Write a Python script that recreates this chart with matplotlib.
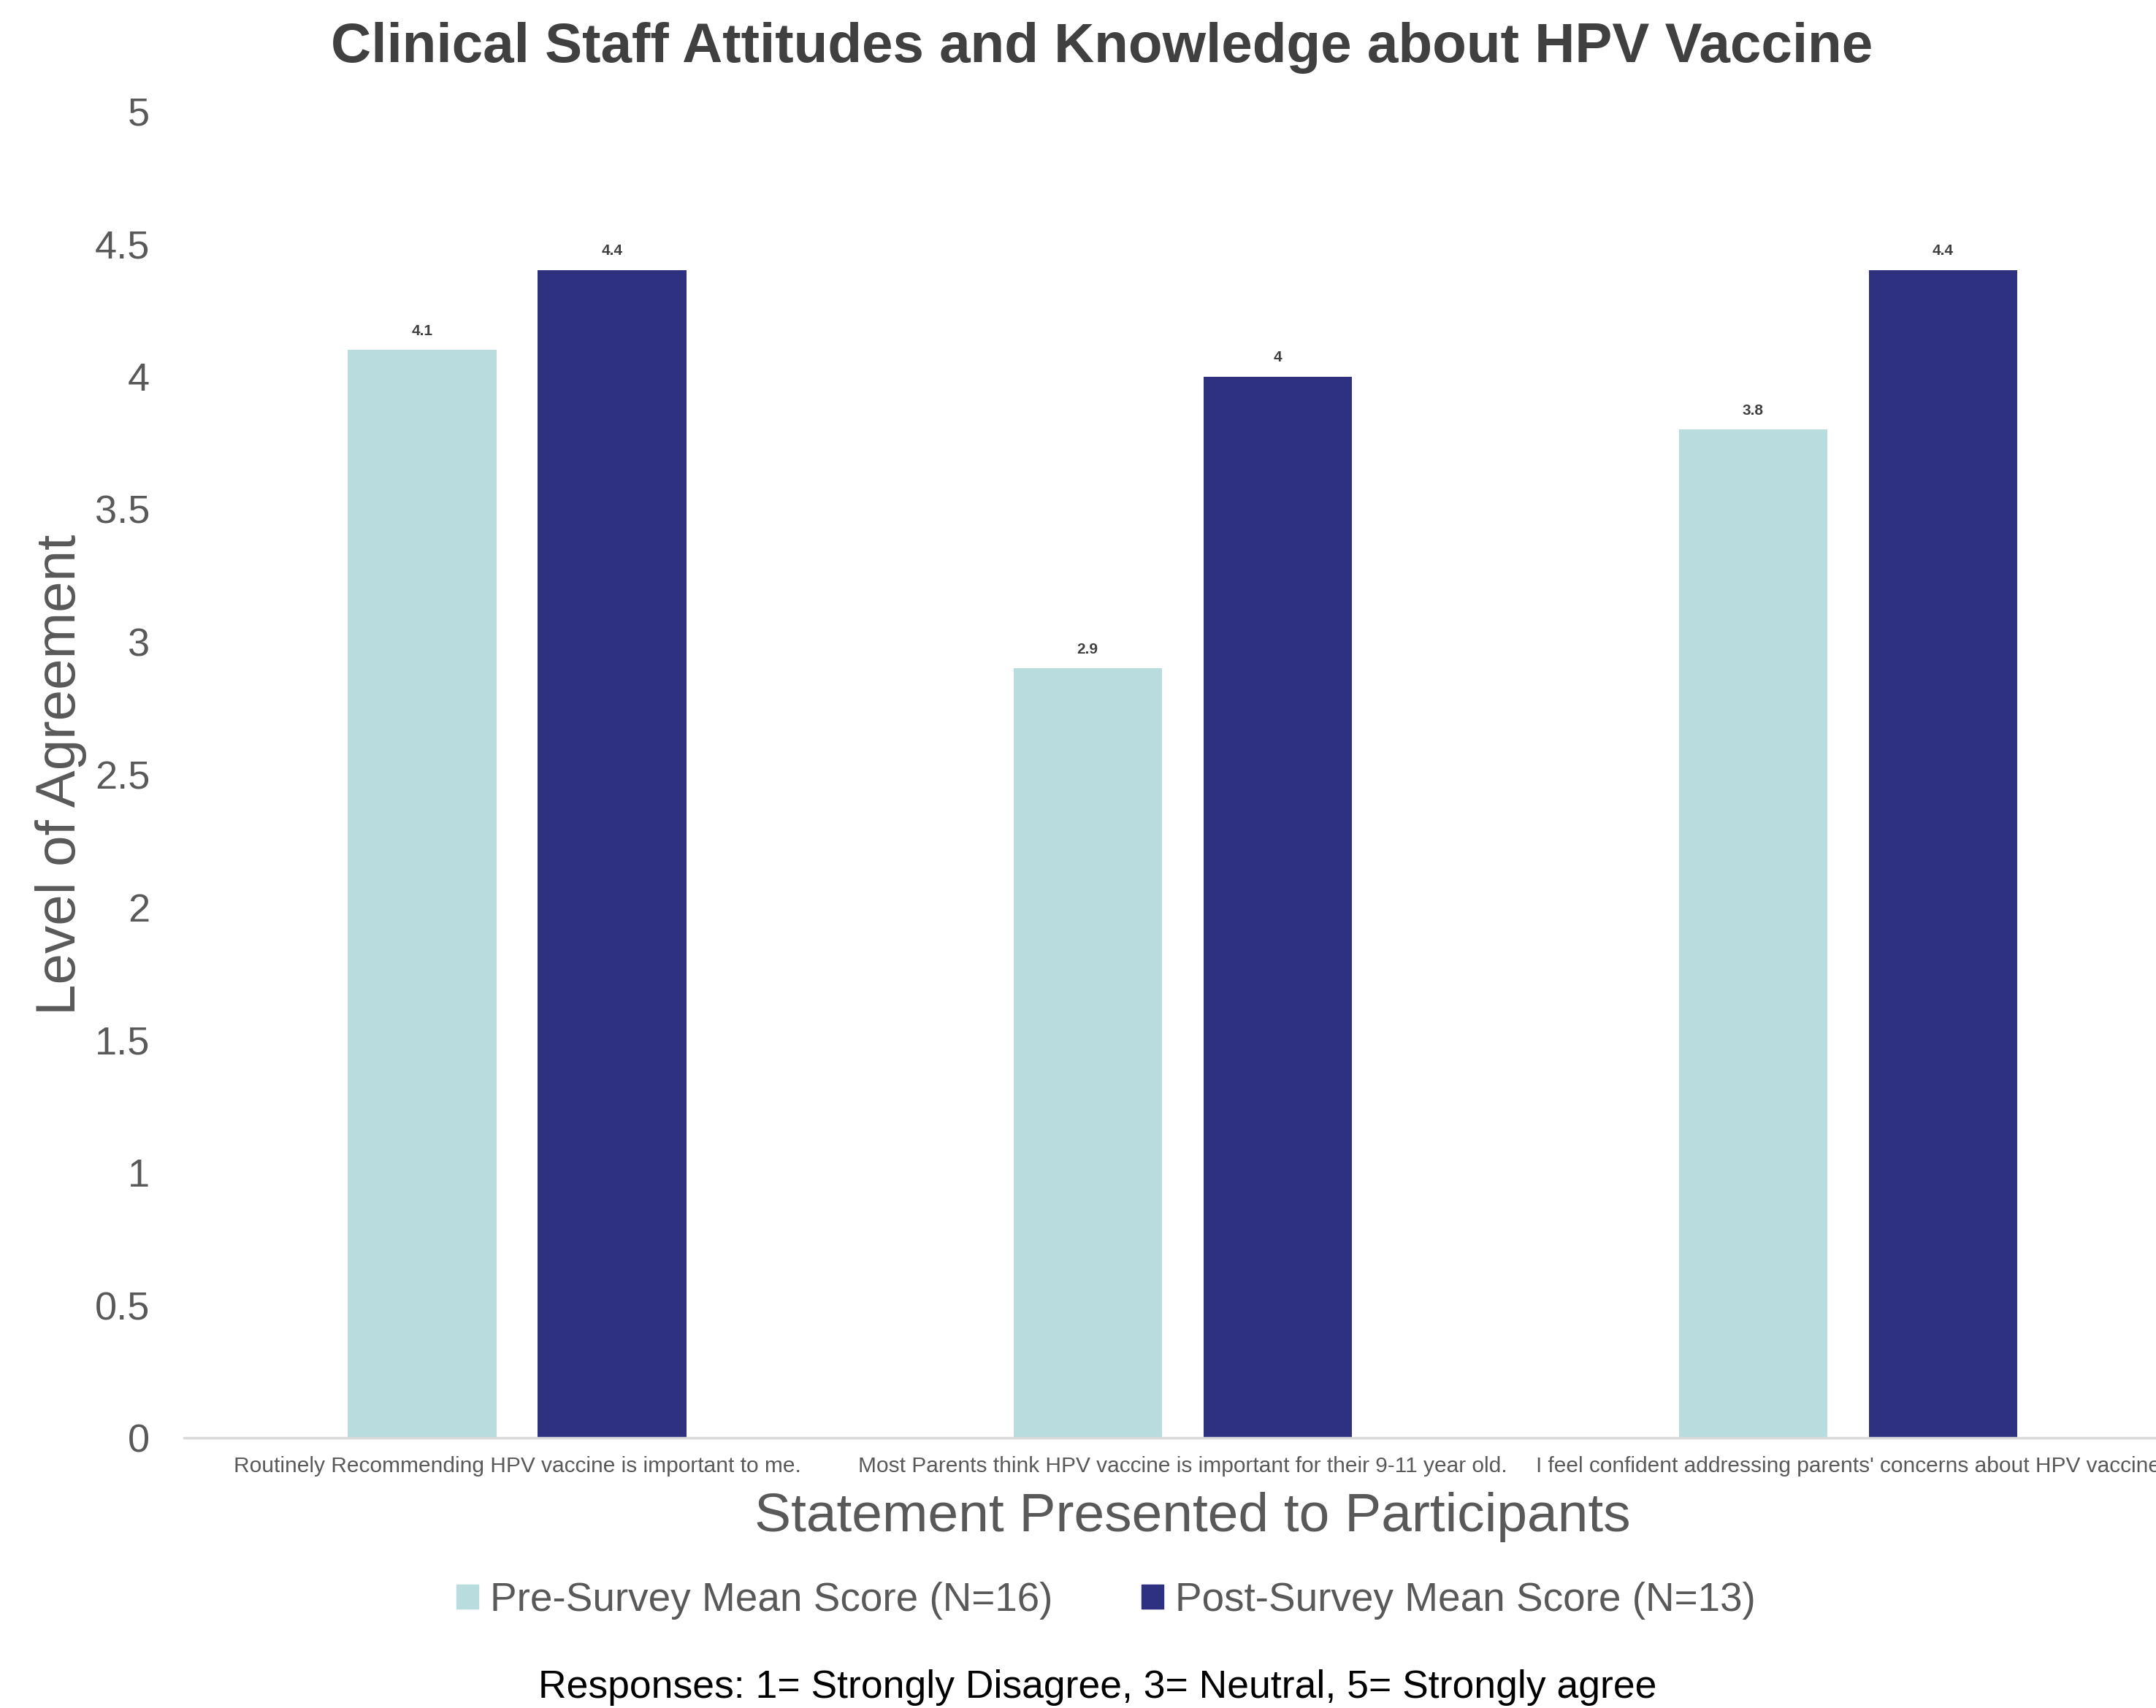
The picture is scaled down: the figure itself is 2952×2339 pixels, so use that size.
import numpy as np
import matplotlib.pyplot as plt
from matplotlib.patches import Patch

# Data
statements = ["Routinely Recommending HPV vaccine is important to me.",
              "Most Parents think HPV vaccine is important for their 9-11 year old.",
              "I feel confident addressing parents' concerns about HPV vaccine"]
pre_scores = [4.1, 2.9, 3.8]
post_scores = [4.4, 4.0, 4.4]
pre_labels = ["4.1", "2.9", "3.8"]
post_labels = ["4.4", "4", "4.4"]
series_names = ["Pre-Survey Mean Score (N=16)", "Post-Survey Mean Score (N=13)"]
y_ticks = [0, 0.5, 1, 1.5, 2, 2.5, 3, 3.5, 4, 4.5, 5]

pre_color = "#B9DDDF"
post_color = "#2E3080"
text_gray = "#595959"

plt.rcParams['font.family'] = ['Liberation Sans', 'DejaVu Sans']

fig = plt.figure(figsize=(29.52, 23.39), dpi=100)
ax = fig.add_axes([0.0855, 0.158, 0.926, 0.777])

x = np.arange(len(statements))
w = 0.223
off = 0.1426
b1 = ax.bar(x - off, pre_scores, w, color=pre_color)
b2 = ax.bar(x + off, post_scores, w, color=post_color)

# value labels above bars
for bars, labs in ((b1, pre_labels), (b2, post_labels)):
    for bar, lab in zip(bars, labs):
        ax.annotate(lab, (bar.get_x() + bar.get_width() / 2, bar.get_height()),
                    xytext=(0, 12), textcoords="offset points",
                    ha="center", va="bottom", fontsize=15, fontweight="bold",
                    color="#404040")

ax.set_xlim(-0.5, 2.5)
ax.set_ylim(0, 5)
ax.set_yticks(y_ticks)
ax.set_yticklabels([f"{t:g}" for t in y_ticks])
ax.set_xticks(x)
ax.set_xticklabels(statements, fontsize=21.5, color=text_gray)
ax.tick_params(axis="y", length=0, pad=34, labelsize=39, labelcolor=text_gray)
ax.tick_params(axis="x", length=0, pad=18)

for s in ["top", "right", "left"]:
    ax.spines[s].set_visible(False)
ax.spines["bottom"].set_color("#D9D9D9")
ax.spines["bottom"].set_linewidth(2.5)

ax.set_ylabel("Level of Agreement", fontsize=55, color=text_gray, labelpad=8)
fig.text(0.553, 0.112, "Statement Presented to Participants", fontsize=54,
         color=text_gray, ha="center", va="center")

fig.text(0.511, 0.972, "Clinical Staff Attitudes and Knowledge about HPV Vaccine",
         fontsize=55, fontweight="bold", color="#404040", ha="center", va="center")

handles = [Patch(color=pre_color), Patch(color=post_color)]
fig.legend(handles, series_names, loc="center", bbox_to_anchor=(0.513, 0.063),
           ncol=2, frameon=False, fontsize=39.5, labelcolor=text_gray,
           handlelength=0.55, handleheight=0.55, handletextpad=0.3,
           columnspacing=2.2)

fig.text(0.509, 0.012, "Responses: 1= Strongly Disagree, 3= Neutral, 5= Strongly agree",
         fontsize=38.5, color="black", ha="center", va="center")

fig.savefig("out.png", dpi=100, facecolor="white")
